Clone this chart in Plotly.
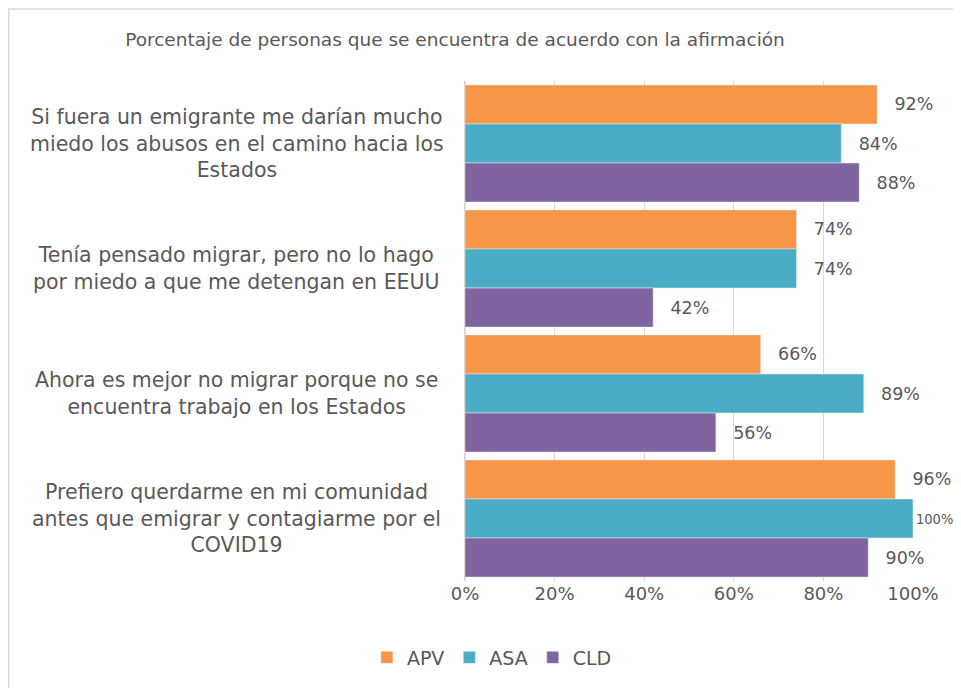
import plotly.graph_objects as go

categories = [
    "Si fuera un emigrante me darían mucho<br>miedo los abusos en el camino hacia los<br>Estados",
    "Tenía pensado migrar, pero no lo hago<br>por miedo a que me detengan en EEUU",
    "Ahora es mejor no migrar porque no se<br>encuentra trabajo en los Estados",
    "Prefiero querdarme en mi comunidad<br>antes que emigrar y contagiarme por el<br>COVID19",
]
cat_ids = ["c1", "c2", "c3", "c4"]
apv = [92, 74, 66, 96]
asa = [84, 74, 89, 100]
cld = [88, 42, 56, 90]

series = [("APV", apv, "#F79646"), ("ASA", asa, "#4BACC6"), ("CLD", cld, "#8064A2")]
grey = "#595959"
font = "DejaVu Sans"

# the page body has an 8px margin, so the figure is a bit smaller and offset
fig = go.Figure()
for name, vals, col in series:
    labels = [("" if v >= 100 else "\u2002\u00a0") + f"{v}%" for v in vals]
    # a full-length bar leaves little room on the right, so its label is narrower
    sizes = [14.5 if v >= 100 else 17.5 for v in vals]
    fams = ["DejaVu Sans Condensed" if v >= 100 else font for v in vals]
    fig.add_trace(go.Bar(
        y=cat_ids, x=vals, name=name, orientation="h",
        marker_color=col, text=labels, textposition="outside",
        textfont=dict(size=sizes, color=grey, family=fams),
        cliponaxis=False, constraintext="none",
    ))

for cid, label in zip(cat_ids, categories):
    fig.add_annotation(
        x=-0.509, xref="paper", y=cid, yref="y", text=label,
        showarrow=False, xanchor="center", yanchor="middle", align="center",
        font=dict(size=20.5, color=grey, family=font),
    )

# chart border
fig.add_shape(type="rect", xref="paper", yref="paper",
              x0=-1.0184, x1=1.3, y0=-0.4, y1=1.1439,
              line=dict(color="#D9D9D9", width=1.5))

fig.update_layout(
    width=945, height=680,
    margin=dict(l=457, r=40, t=73, b=105),
    paper_bgcolor="white", plot_bgcolor="white",
    barmode="group", bargap=0.063, bargroupgap=0,
    font=dict(family=font, color=grey),
    title=dict(text="Porcentaje de personas que se encuentra de acuerdo con la afirmación",
               x=(455 - 8) / 945, y=1 - 32 / 680, xanchor="center", yanchor="middle",
               font=dict(size=18.5, color=grey, family=font)),
    legend=dict(orientation="h", x=0.06, xanchor="center", y=-0.153, yanchor="middle",
                font=dict(size=19, color=grey, family=font), itemwidth=30),
    xaxis=dict(range=[0, 100], dtick=20, ticksuffix="%", showgrid=True,
               gridcolor="#D9D9D9", gridwidth=1, zeroline=True, zerolinecolor="#D9D9D9",
               tickfont=dict(size=18, color=grey, family=font), ticks=""),
    yaxis=dict(categoryorder="array", categoryarray=cat_ids, autorange="reversed",
               showticklabels=False, showgrid=False, zeroline=False),
    showlegend=True,
)

fig.write_html("out.html")
